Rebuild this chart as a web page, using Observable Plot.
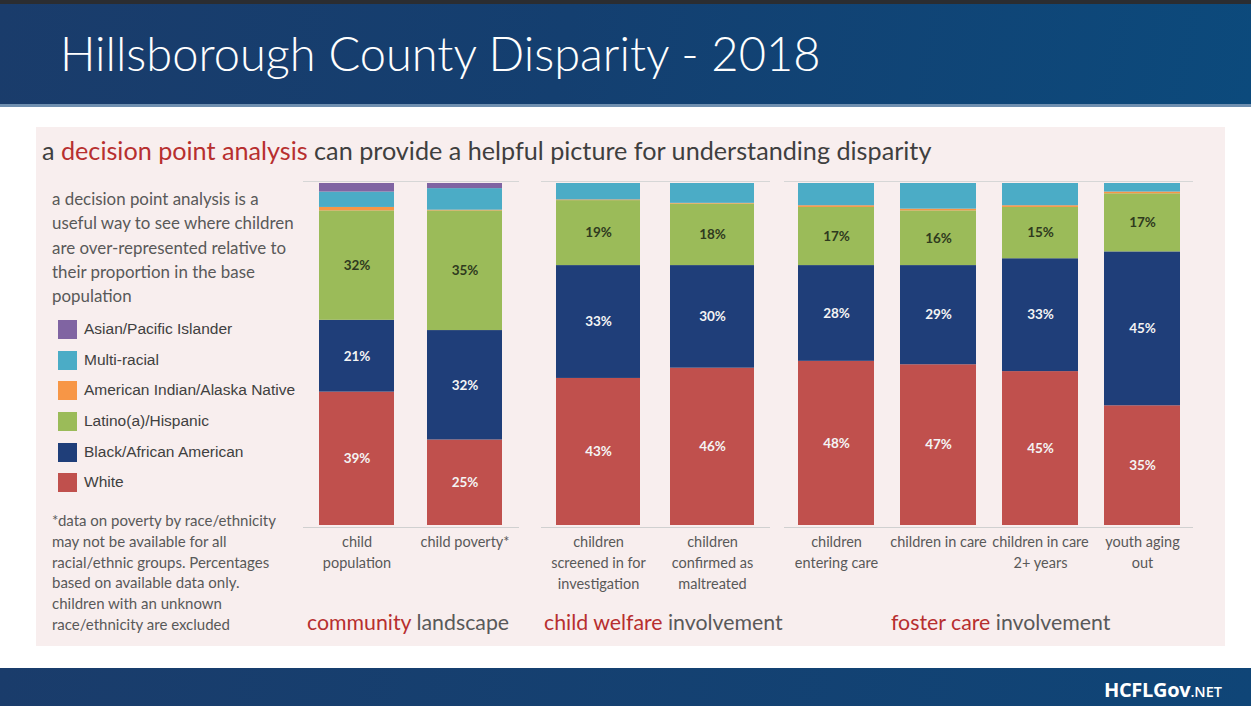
<!DOCTYPE html>
<html>
<head>
<meta charset="utf-8">
<script src="https://cdn.jsdelivr.net/npm/d3@7"></script>
<script src="https://cdn.jsdelivr.net/npm/@observablehq/plot@0.6"></script>
<style>
  html, body { margin: 0; padding: 0; }
  body { width: 1251px; height: 706px; position: relative; overflow: hidden; background: #ffffff; font-family: Lato, "Open Sans", sans-serif; }
  .abs { position: absolute; white-space: nowrap; }
  #topline { left: 0; top: 0; width: 1251px; height: 4px; background: #2b2d31; }
  #band { left: 0; top: 4px; width: 1251px; height: 100px; background: linear-gradient(100deg, #1a3c6b 0%, #143f70 45%, #0c4a7c 100%); }
  #bandline { left: 0; top: 104px; width: 1251px; height: 3px; background: #6f8fb0; }
  #title { left: 60px; top: 30px; font-size: 47px; line-height: 47px; font-weight: 300; color: #ffffff; }
  #panel { left: 36px; top: 127px; width: 1189px; height: 519px; background: #f8eeee; }
  #subtitle { left: 42px; top: 135px; font-size: 25.2px; line-height: 30px; color: #3f3f3f; }
  .red { color: #b72f2f; }
  #para { left: 52px; top: 187px; font-size: 16.9px; line-height: 24.3px; color: #595959; }
  .leg { position: absolute; left: 58px; height: 30px; display: flex; align-items: center; font-family: "Liberation Sans Narrow", "Arial Narrow", "Liberation Sans", sans-serif; font-size: 15.5px; color: #404040; white-space: nowrap; }
  .sw { width: 19px; height: 19px; margin-right: 7px; }
  #foot { left: 52px; top: 510px; font-size: 15px; line-height: 20.8px; color: #595959; }
  .grp { position: absolute; top: 607px; font-size: 21.3px; line-height: 30px; color: #595959; white-space: nowrap; }
  #footer { left: 0; top: 668px; width: 1251px; height: 38px; background: linear-gradient(100deg, #1a3c6b 0%, #0f4577 100%); }
  #brand { right: 29px; top: 677px; color: #ffffff; font-family: "Open Sans", sans-serif; font-weight: 700; font-size: 20px; line-height: 26px; letter-spacing: -0.3px; }
  #brand small { font-size: 14.5px; font-weight: 600; letter-spacing: 0; }
</style>
</head>
<body>
<div class="abs" id="topline"></div>
<div class="abs" id="band"></div>
<div class="abs" id="bandline"></div>
<div class="abs" id="title">Hillsborough County Disparity - 2018</div>
<div class="abs" id="panel"></div>
<div class="abs" id="subtitle">a <span class="red">decision point analysis</span> can provide a helpful picture for understanding disparity</div>
<div class="abs" id="para">a decision point analysis is a<br>useful way to see where children<br>are over-represented relative to<br>their proportion in the base<br>population</div>
<div id="legend"></div>
<div class="abs" id="foot">*data on poverty by race/ethnicity<br>may not be available for all<br>racial/ethnic groups. Percentages<br>based on available data only.<br>children with an unknown<br>race/ethnicity are excluded</div>
<div id="charts"></div>
<div class="grp" style="left:307px"><span class="red">community</span> landscape</div>
<div class="grp" style="left:544px"><span class="red">child welfare</span> involvement</div>
<div class="grp" style="left:891px"><span class="red">foster care</span> involvement</div>
<div class="abs" id="footer"></div>
<div class="abs" id="brand">HCFLGov<small>.NET</small></div>
<script>
// ---- data ----
const races = ["White", "Black/African American", "Latino(a)/Hispanic", "American Indian/Alaska Native", "Multi-racial", "Asian/Pacific Islander"];
const raceColors = ["#c0504d", "#1f3e79", "#9bbb59", "#f79646", "#4bacc6", "#8064a2"];
const legendOrder = ["Asian/Pacific Islander", "Multi-racial", "American Indian/Alaska Native", "Latino(a)/Hispanic", "Black/African American", "White"];

const categories = ["child population", "child poverty*", "children screened in for investigation", "children confirmed as maltreated", "children entering care", "children in care", "children in care 2+ years", "youth aging out"];
const tickLabels = ["child\npopulation", "child poverty*", "children\nscreened in for\ninvestigation", "children\nconfirmed as\nmaltreated", "children\nentering care", "children in care", "children in care\n2+ years", "youth aging\nout"];

const white  = [39, 25, 43, 46, 48, 47, 45, 35];
const black  = [21, 32, 33, 30, 28, 29, 33, 45];
const latino = [32, 35, 19, 18, 17, 16, 15, 17];
const amInd  = [1, 0.2, 0.2, 0.2, 0.5, 0.5, 0.5, 0.5];
const multi  = [4.5, 6.3, 4.8, 5.8, 6.5, 7.5, 6.5, 2.5];
const asian  = [2.5, 1.5, 0, 0, 0, 0, 0, 0];

const groups = [
  {cats: [0, 1], left: 303, width: 216, padding: 0.305},
  {cats: [2, 3], left: 541, width: 229, padding: 0.26},
  {cats: [4, 5, 6, 7], left: 784, width: 409, padding: 0.257}
];

// ---- build table ----
const series = [white, black, latino, amInd, multi, asian];
const rows = [];
categories.forEach((c, i) => {
  races.forEach((r, j) => rows.push({cat: c, race: r, value: series[j][i]}));
});
const tickMap = new Map(categories.map((c, i) => [c, tickLabels[i]]));

// ---- legend ----
const legend = document.getElementById("legend");
const legendTops = [314, 345, 375, 406, 437, 467];
legendOrder.forEach((r, i) => {
  const d = document.createElement("div");
  d.className = "leg";
  d.style.top = legendTops[i] + "px";
  d.innerHTML = `<div class="sw" style="background:${raceColors[races.indexOf(r)]}"></div>${r}`;
  legend.appendChild(d);
});

// ---- charts ----
const holder = document.getElementById("charts");
groups.forEach(g => {
  const cats = g.cats.map(i => categories[i]);
  const data = rows.filter(d => cats.includes(d.cat));
  const chart = Plot.plot({
    width: g.width,
    height: 430,
    marginTop: 8,
    marginBottom: 80,
    marginLeft: 0,
    marginRight: 0,
    style: {background: "transparent", fontFamily: "Lato, sans-serif", color: "#595959", overflow: "visible"},
    x: {domain: cats, paddingInner: g.padding, paddingOuter: g.padding / 2, label: null},
    y: {domain: [0, 100], axis: null},
    color: {domain: races, range: raceColors},
    marks: [
      Plot.ruleY([100], {stroke: "#d6d6d6", strokeWidth: 1, dy: -2}),
      Plot.barY(data, {x: "cat", y: "value", fill: "race"}),
      Plot.text(data, Plot.stackY({x: "cat", y: "value", z: "race",
        text: d => (d.race === "White" || d.race === "Black/African American") ? d.value + "%" : "",
        fill: "#f4f4f4", fontSize: 13.5, fontWeight: 700})),
      Plot.text(data, Plot.stackY({x: "cat", y: "value", z: "race",
        text: d => d.race === "Latino(a)/Hispanic" ? d.value + "%" : "",
        fill: "#2f3a1e", fontSize: 13.5, fontWeight: 700})),
      Plot.ruleY([0], {stroke: "#d0d0d0", strokeWidth: 1, dy: 2}),
      Plot.axisX({tickSize: 0, tickPadding: 7, fontSize: 14.5, lineHeight: 1.45, tickFormat: c => tickMap.get(c), fill: "#595959"})
    ]
  });
  chart.style.position = "absolute";
  chart.style.left = g.left + "px";
  chart.style.top = "175px";
  holder.appendChild(chart);
});
</script>
</body>
</html>
